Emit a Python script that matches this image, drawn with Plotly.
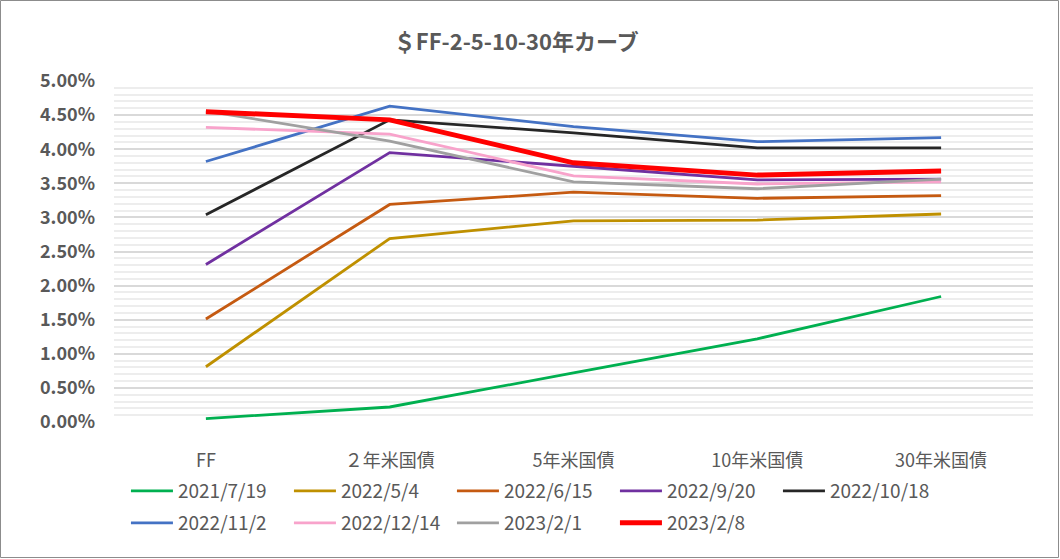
import plotly.graph_objects as go

# ── データ ─────────────────────────────────────
categories = ["FF", "２年米国債", "5年米国債", "10年米国債", "30年米国債"]

series_names = [
    "2021/7/19", "2022/5/4", "2022/6/15", "2022/9/20", "2022/10/18",
    "2022/11/2", "2022/12/14", "2023/2/1", "2023/2/8",
]

y_2021_07_19 = [0.0005, 0.0022, 0.0072, 0.0122, 0.0184]
y_2022_05_04 = [0.0081, 0.0269, 0.0295, 0.0296, 0.0305]
y_2022_06_15 = [0.0151, 0.0319, 0.0337, 0.0328, 0.0332]
y_2022_09_20 = [0.0231, 0.0395, 0.0375, 0.0355, 0.0356]
y_2022_10_18 = [0.0304, 0.0443, 0.0424, 0.0402, 0.0402]
y_2022_11_02 = [0.0382, 0.0463, 0.0433, 0.0411, 0.0417]
y_2022_12_14 = [0.0432, 0.0422, 0.0361, 0.0349, 0.0352]
y_2023_02_01 = [0.0456, 0.0412, 0.0352, 0.0342, 0.0356]
y_2023_02_08 = [0.0455, 0.0443, 0.0380, 0.0362, 0.0368]

values = [
    y_2021_07_19, y_2022_05_04, y_2022_06_15, y_2022_09_20, y_2022_10_18,
    y_2022_11_02, y_2022_12_14, y_2023_02_01, y_2023_02_08,
]

colors = [
    "#00B050", "#BF9000", "#C55A11", "#7030A0", "#262626",
    "#4472C4", "#F8A3CB", "#A0A0A0", "#FF0000",
]
widths = [2.8, 2.8, 2.8, 2.8, 2.8, 2.8, 2.8, 2.8, 5]

# ── レイアウト寸法 ─────────────────────────────
W, H = 1060, 559
ML, MR, MT, MB = 114, 27, 81, 137
PW, PH = W - ML - MR, H - MT - MB

FONT = "Noto Sans CJK JP"
GRAY = "#595959"

fig = go.Figure()
for i, (name, ys, c, w) in enumerate(zip(series_names, values, colors, widths)):
    fig.add_trace(go.Scatter(
        x=categories, y=ys, mode="lines", name=name,
        line=dict(color=c, width=w),
        legend="legend" if i < 5 else "legend2",   # 凡例は2段
    ))

legend_common = dict(
    orientation="h", xanchor="left", yanchor="middle",
    font=dict(family=FONT, size=19, color=GRAY),
    entrywidth=106, entrywidthmode="pixels",
    itemwidth=42, bgcolor="rgba(0,0,0,0)",
)

fig.update_layout(
    width=W, height=H,
    margin=dict(l=ML, r=MR, t=MT, b=MB, autoexpand=False),
    plot_bgcolor="white", paper_bgcolor="white",
    title=dict(
        text="<b>＄FF-2-5-10-30年カーブ</b>",
        x=0.487, xanchor="center", y=0.925, yanchor="middle",
        font=dict(family=FONT, size=22, color=GRAY),
    ),
    legend=dict(legend_common, x=0.013, y=(422 - 491) / PH),
    legend2=dict(legend_common, x=0.013, y=(422 - 523) / PH),
    xaxis=dict(
        type="category", range=[-0.5, 4.5],
        showgrid=False, zeroline=False,
        showline=False, ticks="", automargin=False,
        tickfont=dict(family=FONT, size=18, color=GRAY),
        ticklabelstandoff=26,
    ),
    yaxis=dict(
        range=[0, 0.05], dtick=0.005, tickformat=".2%",
        showgrid=True, gridcolor="#D9D9D9", gridwidth=1.5,
        zeroline=False, showline=False, automargin=False,
        tickfont=dict(family=FONT, size=18, color=GRAY, weight="bold"),
        ticklabelstandoff=18,
        minor=dict(dtick=0.001, showgrid=True, gridcolor="#EDEDED", gridwidth=1.5),
    ),
    shapes=[dict(
        type="rect", xref="paper", yref="paper",
        x0=(0.5 - ML) / PW, x1=(W - 1.5 - ML) / PW,
        y0=(MT + PH - (H - 1.5)) / PH, y1=(MT + PH - 0.5) / PH,
        line=dict(color="#8C8C8C", width=1), layer="below",
    )],
)

# ページ余白をなくしてチャート枠を画面端に合わせる
fig.write_html(
    "out.html",
    config={"displayModeBar": False},
    post_script="document.body.style.margin='0';",
)
